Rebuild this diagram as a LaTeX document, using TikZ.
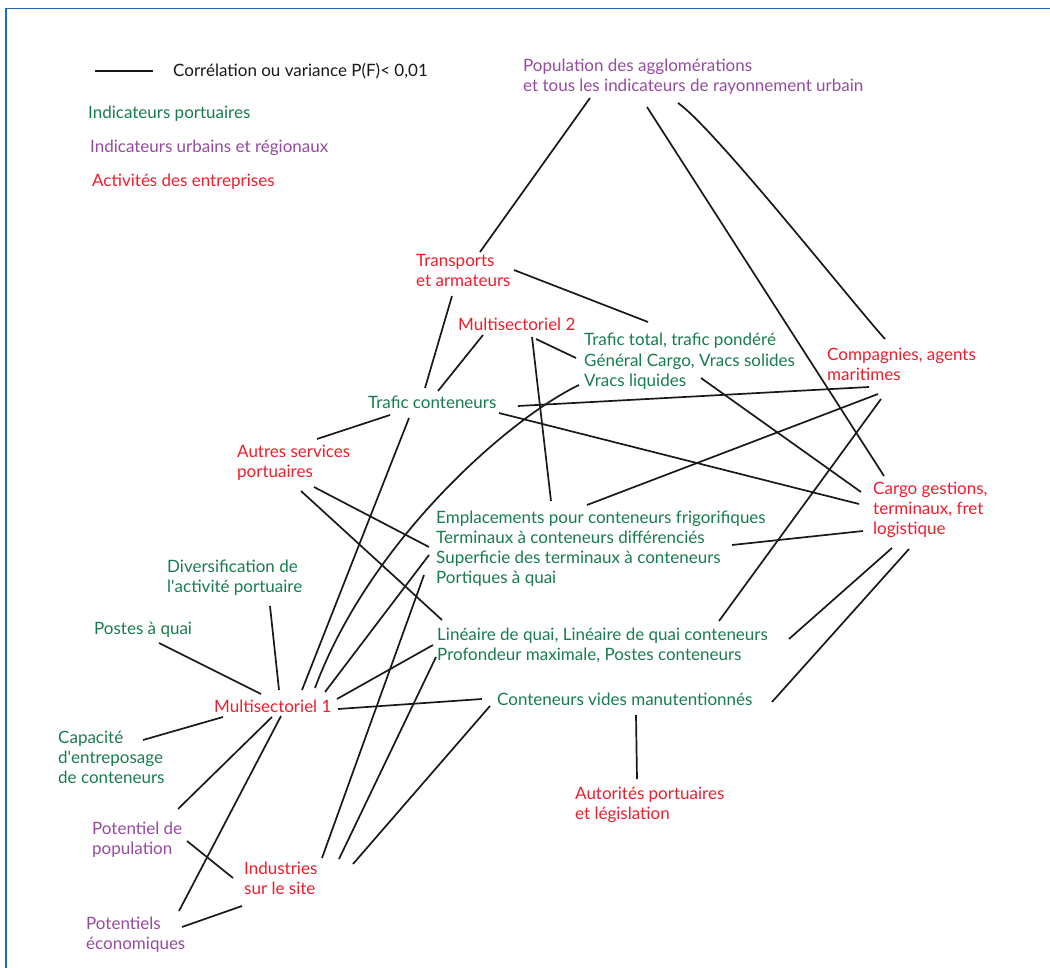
\documentclass[tikz,border=0pt]{standalone}
\usepackage{fontspec}
\setmainfont{Lato}
\definecolor{cgreen}{RGB}{24,125,78}
\definecolor{cpurple}{RGB}{150,75,160}
\definecolor{cred}{RGB}{240,30,45}
\definecolor{cframe}{RGB}{30,105,185}
\definecolor{cline}{RGB}{25,25,25}
\begin{document}
\begin{tikzpicture}[x=1pt,y=-1pt,
  lbl/.style={anchor=base west, inner sep=0pt, align=left, font=\fontsize{17}{20}\selectfont},
  port/.style={lbl, text=cgreen},
  urb/.style={lbl, text=cpurple},
  ent/.style={lbl, text=cred},
  conn/.style={line width=1.7pt, draw=cline},
  frame/.style={line width=1.6pt, draw=cframe}]
\useasboundingbox (0,0) rectangle (1050,968);
\fill[white] (0,0) rectangle (1050,968);
\draw[frame] (6,972) -- (6,8.5) -- (1054,8.5);

% legend
\coordinate (leg1) at (95,71);
\coordinate (leg2) at (153,71);
\draw[conn] (leg1) -- (leg2);
\node[lbl, text=cline] (legtxt) at (173,77) {Corrélation ou variance P(F)< 0,01};
\node[port] (legp) at (88,119) {Indicateurs portuaires};
\node[urb] (legu) at (90,153) {Indicateurs urbains et régionaux};
\node[ent] (lege) at (92,187) {Activités des entreprises};

% nodes (anchored at the baseline of their last line)
\node[urb] (pop) at (523,92) {Population des agglomérations\\et tous les indicateurs de rayonnement urbain};
\node[ent] (trans) at (416,287) {Transports\\et armateurs};
\node[ent] (ms2) at (458,331) {Multisectoriel 2};
\node[port] (tt) at (584,386) {Trafic total, trafic pondéré\\Général Cargo, Vracs solides\\Vracs liquides};
\node[ent] (comp) at (827,381) {Compagnies, agents\\maritimes};
\node[port] (tc) at (368,409) {Trafic conteneurs};
\node[ent] (autres) at (237,477) {Autres services\\portuaires};
\node[ent] (cargo) at (873,534) {Cargo gestions,\\terminaux, fret\\logistique};
\node[port] (empl) at (436,583) {Emplacements pour conteneurs frigorifiques\\Terminaux à conteneurs différenciés\\Superficie des terminaux à conteneurs\\Portiques à quai};
\node[port] (divers) at (167,592) {Diversification de\\l\textquotesingle activité portuaire};
\node[port] (postes) at (94,634) {Postes à quai};
\node[port] (lin) at (437,660) {Linéaire de quai, Linéaire de quai conteneurs\\Profondeur maximale, Postes conteneurs};
\node[port] (vides) at (497,705) {Conteneurs vides manutentionnés};
\node[ent] (ms1) at (214,712) {Multisectoriel 1};
\node[port] (capa) at (58,783) {Capacité\\d\textquotesingle entreposage\\de conteneurs};
\node[ent] (auto) at (575,819) {Autorités portuaires\\et législation};
\node[urb] (potpop) at (92,854) {Potentiel de\\population};
\node[ent] (indus) at (244,894) {Industries\\sur le site};
\node[urb] (poteco) at (86,949) {Potentiels\\économiques};

% connectors
\draw[conn] ([shift={(67,6)}]pop.base west) -- ([shift={(64,-35)}]trans.base west);
\draw[conn] ([shift={(124,15)}]pop.base west) -- ([shift={(11,-58)}]cargo.base west);
\draw[conn] ([shift={(155,11)}]pop.base west) .. controls (714,128) and (850,300) .. ([shift={(58,-42)}]comp.base west);
\draw[conn] ([shift={(98,-17)}]trans.base west) -- ([shift={(64,-64)}]tt.base west);
\draw[conn] ([shift={(36,9)}]trans.base west) -- ([shift={(57,-21)}]tc.base west);
\draw[conn] ([shift={(25,4)}]ms2.base west) -- ([shift={(70,-18)}]tc.base west);
\draw[conn] ([shift={(78,8)}]ms2.base west) -- ([shift={(-8,-28)}]tt.base west);
\draw[conn] ([shift={(74,6)}]ms2.base west) -- ([shift={(115,-82)}]empl.base west);
\draw[conn] ([shift={(-5,-1)}]tt.base west) .. controls (510,418) and (370,540) .. ([shift={(101,-24)}]ms1.base west);
\draw[conn] ([shift={(117,-8)}]tt.base west) -- ([shift={(-12,-42)}]cargo.base west);
\draw[conn] ([shift={(150,-3)}]tc.base west) -- ([shift={(42,6)}]comp.base west);
\draw[conn] ([shift={(131,4)}]tc.base west) -- ([shift={(-14,-30)}]cargo.base west);
\draw[conn] ([shift={(22,6)}]tc.base west) -- ([shift={(80,-38)}]autres.base west);
\draw[conn] ([shift={(41,9)}]tc.base west) -- ([shift={(88,-22)}]ms1.base west);
\draw[conn] ([shift={(151,-78)}]empl.base west) -- ([shift={(51,13)}]comp.base west);
\draw[conn] ([shift={(282,-39)}]lin.base west) -- ([shift={(54,18)}]comp.base west);
\draw[conn] ([shift={(296,-38)}]empl.base west) -- ([shift={(-10,-3)}]cargo.base west);
\draw[conn] ([shift={(352,-21)}]lin.base west) -- ([shift={(19,14)}]cargo.base west);
\draw[conn] ([shift={(275,-3)}]vides.base west) -- ([shift={(36,15)}]cargo.base west);
\draw[conn] ([shift={(139,10)}]vides.base west) -- ([shift={(62,-40)}]auto.base west);
\draw[conn] ([shift={(64,14)}]autres.base west) -- ([shift={(5,-40)}]lin.base west);
\draw[conn] ([shift={(77,10)}]autres.base west) -- ([shift={(-7,-36)}]empl.base west);
\draw[conn] ([shift={(-7,-28)}]empl.base west) -- ([shift={(111,-20)}]ms1.base west);
\draw[conn] ([shift={(-4,-15)}]lin.base west) -- ([shift={(123,-13)}]ms1.base west);
\draw[conn] ([shift={(124,-3)}]ms1.base west) -- ([shift={(-15,-6)}]vides.base west);
\draw[conn] ([shift={(109,-30)}]indus.base west) -- ([shift={(-7,1)}]vides.base west);
\draw[conn] ([shift={(95,-35)}]indus.base west) -- ([shift={(-1,-3)}]lin.base west);
\draw[conn] ([shift={(78,-36)}]indus.base west) -- ([shift={(-12,-8)}]empl.base west);
\draw[conn] ([shift={(103,14)}]divers.base west) -- ([shift={(65,-22)}]ms1.base west);
\draw[conn] ([shift={(65,9)}]postes.base west) -- ([shift={(47,-18)}]ms1.base west);
\draw[conn] ([shift={(85,-43)}]capa.base west) -- ([shift={(9,5)}]ms1.base west);
\draw[conn] ([shift={(58,5)}]ms1.base west) -- ([shift={(86,-45)}]potpop.base west);
\draw[conn] ([shift={(67,4)}]ms1.base west) -- ([shift={(93,-38)}]poteco.base west);
\draw[conn] ([shift={(95,-13)}]potpop.base west) -- ([shift={(-11,-16)}]indus.base west);
\draw[conn] ([shift={(96,-22)}]poteco.base west) -- ([shift={(-2,12)}]indus.base west);
\end{tikzpicture}
\end{document}
